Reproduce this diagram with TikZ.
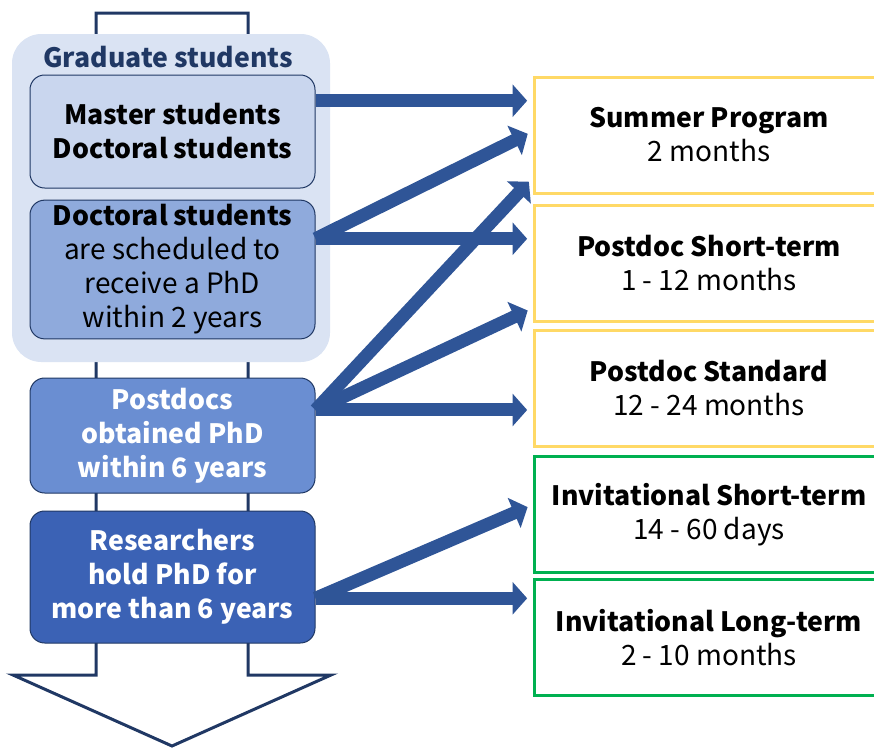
\documentclass[tikz,border=0pt]{standalone}
\usepackage{fontspec}
\setmainfont{Noto Sans CJK JP}
\usetikzlibrary{arrows.meta,calc}
\definecolor{navy}{HTML}{203864}
\definecolor{gradbg}{HTML}{DAE3F3}
\definecolor{stageA}{HTML}{C9D6EE}
\definecolor{stageB}{HTML}{8FAADC}
\definecolor{stageC}{HTML}{6A8ED2}
\definecolor{stageD}{HTML}{3B62B5}
\definecolor{arrowblue}{HTML}{2F5597}
\definecolor{gold}{HTML}{FFD966}
\definecolor{leafgreen}{HTML}{00B050}
\newcommand{\hd}[1]{{\fontsize{20}{25.5}\selectfont\bfseries #1}}

\begin{document}
\begin{tikzpicture}[x=0.75pt,y=0.75pt,yscale=-1,
  txt/.style={font=\fontsize{21}{25.5}\selectfont, align=center},
  bold/.style={font=\fontsize{20}{25.5}\selectfont\bfseries},
  stage/.style={txt, draw=navy, line width=0.75pt, rounded corners=11pt, minimum width=213.75pt},
  program/.style={txt, draw=#1, line width=2.25pt, fill=white, minimum width=262.5pt, minimum height=87pt},
  fat/.style={draw=arrowblue, line width=9.75pt, -{Triangle[width=24pt,length=11pt]}, shorten >=4pt}
]
\useasboundingbox (0,0) rectangle (874,750);

%Shape: Down Arrow
\draw [draw=navy, line width=2.25pt, fill=white, line join=miter] (96,13) -- (248,13) -- (248,675) -- (331,675) -- (172,746) -- (13,675) -- (96,675) -- cycle ;

%Shape: Rounded Rect
\node [fill=gradbg, rounded corners=22pt, minimum width=238.5pt, minimum height=246pt] (grad) at (171,198) {};
% Text Node
\node [txt, bold, text=navy] (gradtitle) at (168,57) {Graduate students};

%Shape: Rounded Rect
\node [stage, bold, fill=stageA, minimum height=84.75pt] (ms) at (172.5,131.5) {Master students\\Doctoral students};
\node [stage, fill=stageB, minimum height=101.25pt] (ds) at (172.5,269.5) {\hd{Doctoral students}\\are scheduled to\\receive a PhD\\within 2 years};
\node [stage, bold, fill=stageC, minimum height=86.25pt, text=white] (pd) at (172.5,435.5) {Postdocs\\obtained PhD\\within 6 years};
\node [stage, bold, fill=stageD, minimum height=99pt, text=white] (rs) at (172.5,577) {Researchers\\hold PhD for\\more than 6 years};

%Shape: Rectangle
\node [program=gold] (summer) at (709,135) {\hd{Summer Program}\\2 months};
\node [program=gold] (pshort) at (709,263) {\hd{Postdoc Short-term}\\1 - 12 months};
\node [program=gold] (pstd) at (709,388) {\hd{Postdoc Standard}\\12 - 24 months};
\node [program=leafgreen] (ishort) at (709,514.5) {\hd{Invitational Short-term}\\14 - 60 days};
\node [program=leafgreen] (ilong) at (709,637.5) {\hd{Invitational Long-term}\\2 - 10 months};

% Arrows
\coordinate (msout) at ($(ms.north east)!0.23!(ms.south east)$);
\coordinate (dsout) at ($(ds.north east)!0.28!(ds.south east)$);
\coordinate (pdout) at ($(pd.north east)!0.28!(pd.south east)$);
\coordinate (rsout) at ($(rs.north east)!0.66!(rs.south east)$);

\draw [fat] (msout) -- (msout -| summer.west) ;
\draw [fat] (dsout) -- ($(summer.north west)!0.47!(summer.south west)$) ;
\draw [fat] (dsout) -- (dsout -| pshort.west) ;
\draw [fat] (pdout) -- ($(summer.north west)!0.86!(summer.south west)$) ;
\draw [fat] (pdout) -- ($(pshort.north west)!0.88!(pshort.south west)$) ;
\draw [fat] (pdout) -- (pdout -| pstd.west) ;
\draw [fat] (rsout) -- ($(ishort.north west)!0.42!(ishort.south west)$) ;
\draw [fat] (rsout) -- (rsout -| ilong.west) ;

\end{tikzpicture}
\end{document}
